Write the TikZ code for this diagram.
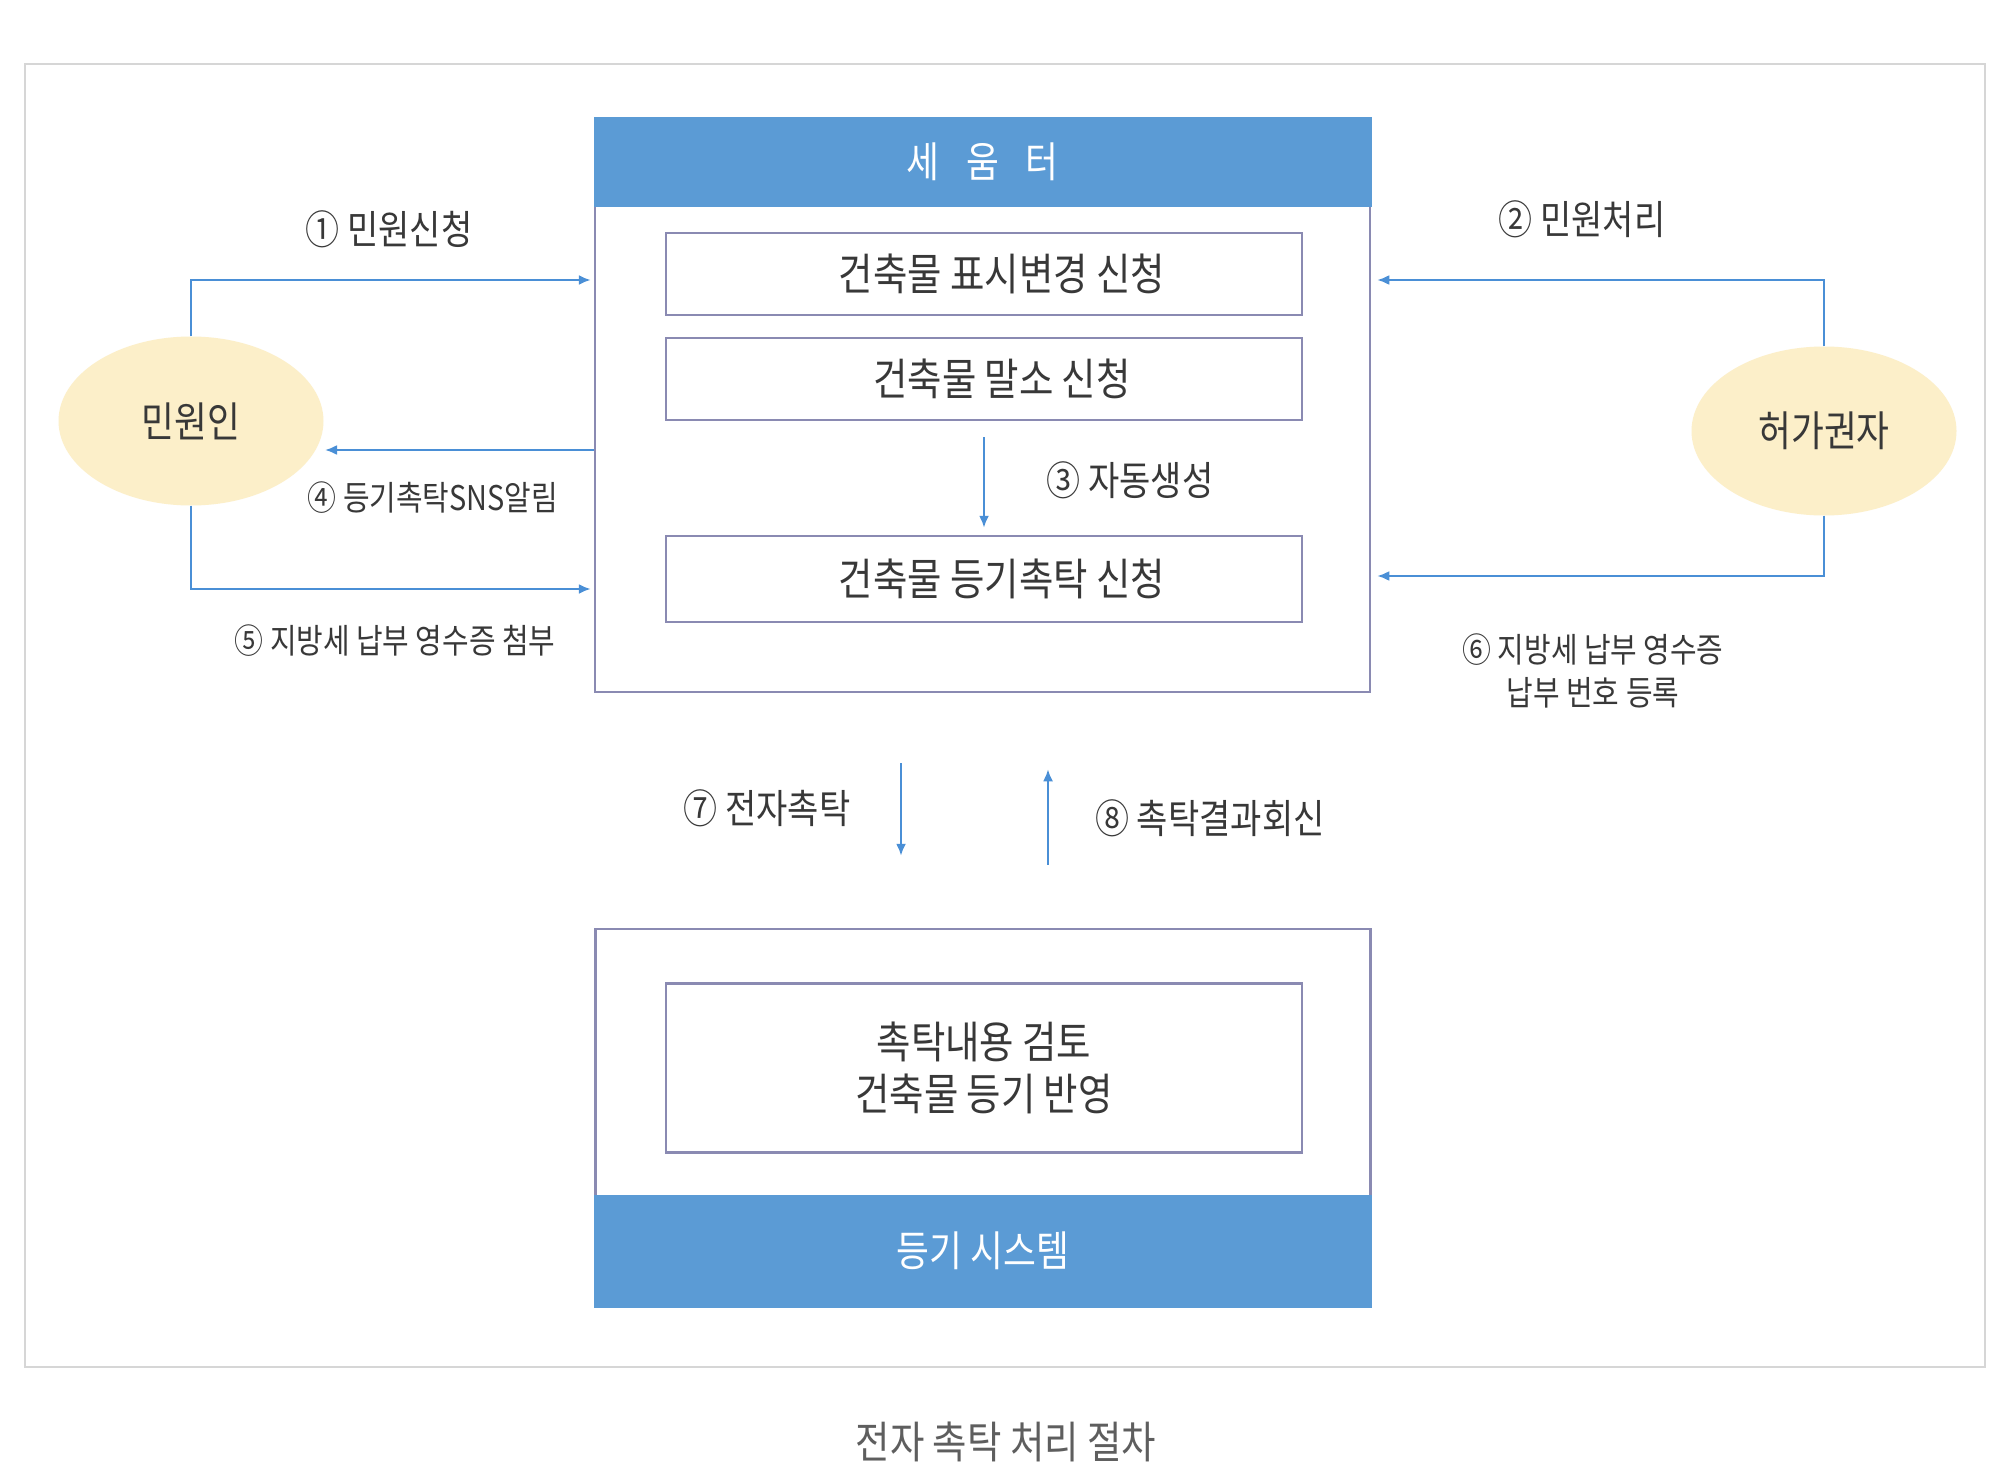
\documentclass[tikz,border=0pt]{standalone}
\usepackage{fontspec}
\setmainfont{Noto Sans CJK KR}[FakeStretch=0.85]
\usetikzlibrary{arrows.meta,shapes.geometric}

\definecolor{headblue}{HTML}{5B9BD5}
\definecolor{boxline}{HTML}{8A8AB2}
\definecolor{flowblue}{HTML}{4A8FD6}
\definecolor{personfill}{HTML}{FCEFC9}
\definecolor{textgray}{HTML}{383838}
\definecolor{captiongray}{HTML}{5E5E5E}
\definecolor{frameline}{HTML}{D6D6D6}

\begin{document}
\begin{tikzpicture}[x=1pt, y=-1pt,
  box/.style={draw=boxline, line width=2.5pt, fill=white, minimum width=636pt,
    text=textgray, font=\fontsize{44}{52}\selectfont, align=center, inner sep=0pt},
  panel/.style={draw=boxline, line width=2.5pt, minimum width=775pt, inner sep=0pt},
  header/.style={fill=headblue, minimum width=778pt, text=white,
    font=\fontsize{42}{50}\selectfont, inner sep=0pt},
  person/.style={ellipse, fill=personfill, minimum width=265pt, minimum height=169pt,
    text=textgray, font=\fontsize{42}{50}\selectfont, inner sep=0pt},
  flow/.style={draw=flowblue, line width=2.2pt, -{Latex[length=12pt,width=10pt]}},
  numlabel/.style={text=textgray, font=\fontsize{40}{48}\selectfont, inner sep=0pt},
  smalllabel/.style={text=textgray, font=\fontsize{34}{43}\selectfont, inner sep=0pt, align=center}]

\fill[white] (0,0) rectangle (1994,1479);
\draw[frameline, line width=2.5pt] (25,64) rectangle (1985,1367);

% 세움터
\node[panel, minimum height=574pt] (sewoom) at (982.5,405) {};
\node[header, minimum height=90pt] (sewoomhead) at (982.5,162) {세\hspace{27pt}움\hspace{27pt}터};
\node[box, minimum height=82pt] (box1) at (984,274) {\hspace*{36pt}건축물 표시변경 신청};
\node[box, minimum height=82pt] (box2) at (984,379) {\hspace*{36pt}건축물 말소 신청};
\node[box, minimum height=86pt] (box3) at (984,579) {\hspace*{36pt}건축물 등기촉탁 신청};

% 등기 시스템
\node[panel, minimum height=377pt] (deunggi) at (983,1117.5) {};
\node[header, minimum height=113pt] (deunggifoot) at (983,1251) {등기 시스템};
\node[box, minimum height=169pt] (review) at (984,1068) {촉탁내용 검토\\건축물 등기 반영};

% people
\node[person] (minwon) at (191,421) {민원인};
\node[person] (heoga) at (1824,431) {허가권자};

\coordinate (in1) at ([yshift=-6pt]box1.west);
\coordinate (in2) at ([yshift=-6pt]box1.east);
\coordinate (in5) at ([yshift=-10pt]box3.west);
\coordinate (in6) at ([yshift=3pt]box3.east);
\coordinate (sns) at (325,450);

% connectors
\draw[flow, shorten >=3pt] (minwon.north) |- (sewoom.west |- in1);
\draw[flow] (sewoom.west |- sns) -- (sns);
\draw[flow, shorten >=3pt] (minwon.south) |- (sewoom.west |- in5);
\draw[flow, shorten >=6pt] (heoga.north) |- (sewoom.east |- in2);
\draw[flow, shorten >=6pt] (heoga.south) |- (sewoom.east |- in6);
\draw[flow] ([yshift=-16pt]box2.south) -- ([yshift=7pt]box3.north);
\draw[flow] ([xshift=-81.5pt,yshift=-70pt]sewoom.south) -- ([xshift=-82pt,yshift=72pt]deunggi.north);
\draw[flow] ([xshift=65pt,yshift=63pt]deunggi.north) -- ([xshift=65.5pt,yshift=-76pt]sewoom.south);

% labels
\node[numlabel] (lbl1) at (389,229) {① 민원신청};
\node[numlabel] (lbl2) at (1582,219) {② 민원처리};
\node[numlabel] (lbl3) at (1130,480) {③ 자동생성};
\node[smalllabel] (lbl4) at (433,498) {④ 등기촉탁SNS알림};
\node[smalllabel] (lbl5) at (395,641) {⑤ 지방세 납부 영수증 첨부};
\node[smalllabel] (lbl6) at (1593,671) {⑥ 지방세 납부 영수증\\납부 번호 등록};
\node[numlabel] (lbl7) at (767,808) {⑦ 전자촉탁};
\node[numlabel] (lbl8) at (1210,818) {⑧ 촉탁결과회신};

\node[text=captiongray, font=\fontsize{44}{52}\selectfont] (caption) at (1006,1442) {전자 촉탁 처리 절차};
\end{tikzpicture}
\end{document}
